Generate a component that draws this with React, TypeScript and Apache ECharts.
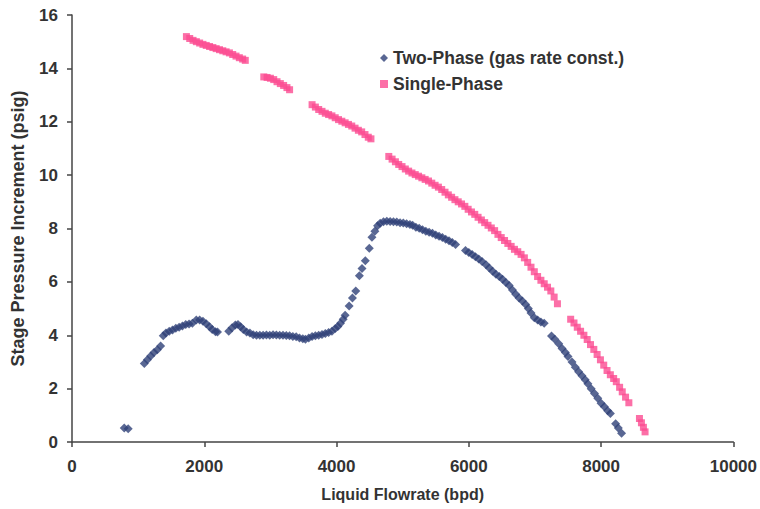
import React, { useEffect, useRef } from "react";
import * as echarts from "echarts";

// Two-phase pump stage data (gas rate held constant)
const twoPhaseFlow = [
  790, 850,
  1093, 1140, 1190, 1240, 1290, 1340,
  1380, 1420, 1470, 1520, 1570, 1620, 1670, 1720, 1770, 1820, 1880, 1930, 1980, 2030, 2080, 2120, 2170, 2200,
  2370, 2420, 2470, 2510, 2550, 2590, 2640, 2690, 2740, 2790, 2840, 2890, 2940, 2990, 3040, 3090, 3140, 3190,
  3240, 3290, 3340, 3390, 3440, 3490, 3530, 3580, 3630, 3680, 3730, 3780, 3830, 3880, 3930, 3980, 4020, 4060,
  4100, 4130, 4190, 4240, 4290, 4345, 4385, 4435, 4495, 4535, 4580, 4620, 4660, 4710, 4760, 4810, 4860, 4910,
  4960, 5010, 5060, 5110, 5150, 5200, 5250, 5300, 5350, 5400, 5450, 5500, 5550, 5600, 5650, 5700, 5750, 5800,
  5950, 6000, 6050, 6100, 6150, 6200, 6260, 6310, 6360, 6410, 6460, 6510, 6560, 6610, 6660, 6710, 6760, 6810,
  6860, 6900, 6940, 6990, 7040, 7090, 7140,
  7250, 7300, 7360, 7410, 7460, 7500, 7560, 7610, 7660, 7710, 7760, 7800, 7850, 7900, 7950, 8000, 8050, 8100, 8140,
  8220, 8260, 8310,
];
const twoPhaseDp = [
  0.52, 0.5,
  2.94, 3.08, 3.22, 3.35, 3.46, 3.6,
  3.98, 4.08, 4.15, 4.2, 4.26, 4.3, 4.35, 4.4, 4.42, 4.45, 4.57, 4.57, 4.52, 4.43, 4.32, 4.22, 4.13, 4.12,
  4.15, 4.28, 4.38, 4.4, 4.32, 4.22, 4.12, 4.08, 4.02, 4.0, 4.0, 4.0, 4.01, 4.0, 4.02, 4.01, 4.0, 4.0,
  3.99, 3.98, 3.95, 3.94, 3.9, 3.87, 3.85, 3.9, 3.95, 3.98, 4.0, 4.03, 4.07, 4.1, 4.15, 4.25, 4.33, 4.45,
  4.6, 4.75, 5.1, 5.4, 5.66, 6.23, 6.5, 6.79, 7.26, 7.67, 7.9, 8.1, 8.2, 8.25, 8.27, 8.26, 8.25, 8.24,
  8.22, 8.21, 8.18, 8.15, 8.12, 8.05, 8.01, 7.95, 7.9, 7.86, 7.82, 7.76, 7.71, 7.66, 7.6, 7.54, 7.48, 7.4,
  7.18, 7.1, 7.03, 6.94, 6.86, 6.76, 6.64, 6.52, 6.4, 6.29, 6.2, 6.1, 5.98, 5.86, 5.7, 5.54, 5.4, 5.28,
  5.15, 5.0, 4.83, 4.66, 4.57, 4.5, 4.45,
  3.97, 3.85, 3.68, 3.5, 3.35, 3.2, 3.0, 2.8, 2.63, 2.48, 2.33, 2.18, 2.0, 1.82, 1.64, 1.45, 1.32, 1.17, 1.07,
  0.68, 0.52, 0.33,
];

// Single-phase (liquid only) stage data
const singlePhaseFlow = [
  1730, 1780, 1830, 1880, 1930, 1980, 2030, 2080, 2130, 2180, 2230, 2280, 2330, 2380, 2430, 2480, 2530, 2580, 2620,
  2900, 2950, 3000, 3050, 3100, 3150, 3200, 3250, 3290,
  3630, 3680, 3730, 3780, 3830, 3880, 3930, 3980, 4030, 4080, 4130, 4180, 4230, 4280, 4330, 4380, 4430, 4480, 4520,
  4790, 4840, 4890, 4940, 4990, 5040, 5090, 5140, 5190, 5240, 5290, 5340, 5390, 5440, 5490, 5540, 5590, 5640,
  5690, 5740, 5790, 5840, 5890, 5940, 5990, 6040, 6090, 6140, 6190, 6240, 6290, 6340, 6390, 6440, 6490, 6540,
  6590, 6640, 6690, 6740, 6790, 6840, 6890, 6940, 6990, 7040, 7090, 7140, 7190, 7240, 7290, 7340,
  7540, 7590, 7640, 7690, 7740, 7790, 7840, 7890, 7940, 7990, 8040, 8090, 8140, 8190, 8230, 8280, 8320, 8370, 8420,
  8580, 8610, 8640, 8665,
];
const singlePhaseDp = [
  15.19, 15.12, 15.05, 15.0, 14.95, 14.9, 14.86, 14.82, 14.78, 14.74, 14.7, 14.66, 14.62, 14.58, 14.52, 14.46, 14.4, 14.35, 14.3,
  13.68, 13.66, 13.63, 13.58, 13.5, 13.43, 13.36, 13.28, 13.2,
  12.64, 12.55, 12.46, 12.39, 12.32, 12.27, 12.22, 12.15, 12.08, 12.02, 11.96, 11.9, 11.84, 11.76, 11.68, 11.62, 11.52, 11.42, 11.36,
  10.7, 10.6, 10.5, 10.4, 10.32, 10.23, 10.15, 10.08, 10.02, 9.96, 9.9, 9.84, 9.78, 9.7, 9.62, 9.55, 9.46, 9.36,
  9.26, 9.17, 9.08, 9.0, 8.92, 8.83, 8.72, 8.62, 8.53, 8.42, 8.32, 8.22, 8.12, 8.02, 7.92, 7.78, 7.66, 7.55,
  7.44, 7.33, 7.22, 7.13, 7.03, 6.9, 6.73, 6.55, 6.38, 6.2, 6.06, 5.93, 5.8, 5.66, 5.43, 5.18,
  4.6, 4.46, 4.3, 4.15, 4.0, 3.84, 3.65, 3.47, 3.28, 3.08, 2.88, 2.68, 2.52, 2.38, 2.26, 2.05, 1.88, 1.68, 1.47,
  0.88, 0.72, 0.55, 0.38,
];

const xTicks = { min: 0, max: 10000, interval: 2000 };
const yTicks = { min: 0, max: 16, interval: 2 };

const NAVY = "#2f4178";
const PINK = "#fb4b91";
const INK = "#333333";
const FONT = "'Liberation Sans', Arial, sans-serif";

const zip = (xs: number[], ys: number[]) => xs.map((x, i) => [x, ys[i]]);

export default function App() {
  const ref = useRef<HTMLDivElement>(null);

  useEffect(() => {
    if (!ref.current) return;
    const chart = echarts.init(ref.current, undefined, { renderer: "svg" });

    const axisCommon = {
      axisLine: { show: true, onZero: false, lineStyle: { color: "#444", width: 1.5 } },
      axisTick: { show: true, inside: false, length: 5, lineStyle: { color: "#444", width: 1.5 } },
      splitLine: { show: false },
      nameTextStyle: { color: INK, fontFamily: FONT, fontWeight: "bold" as const },
    };

    chart.setOption({
      animation: false,
      backgroundColor: "#ffffff",
      textStyle: { fontFamily: FONT },
      grid: { left: 72, right: 23, top: 15, bottom: 67, containLabel: false },
      legend: {
        show: true,
        orient: "vertical",
        left: 375,
        top: 44,
        itemWidth: 8,
        itemHeight: 8,
        itemGap: 8,
        textStyle: { color: INK, fontFamily: FONT, fontWeight: "bold", fontSize: 17.5 },
        data: [
          { name: "Two-Phase (gas rate const.)", icon: "diamond" },
          { name: "Single-Phase", icon: "rect" },
        ],
      },
      xAxis: {
        type: "value",
        ...xTicks,
        ...axisCommon,
        name: "Liquid Flowrate (bpd)",
        nameLocation: "middle",
        nameGap: 44,
        nameTextStyle: { ...axisCommon.nameTextStyle, fontSize: 16 },
        axisLabel: {
          color: INK,
          fontFamily: FONT,
          fontWeight: "bold",
          fontSize: 17,
          margin: 16,
          formatter: (v: number) => String(v),
        },
      },
      yAxis: {
        type: "value",
        ...yTicks,
        ...axisCommon,
        name: "Stage Pressure Increment (psig)",
        nameLocation: "middle",
        nameGap: 45,
        nameTextStyle: { ...axisCommon.nameTextStyle, fontSize: 18 },
        axisLabel: {
          color: INK,
          fontFamily: FONT,
          fontWeight: "bold",
          fontSize: 17,
          margin: 14,
          formatter: (v: number) => String(v),
        },
      },
      series: [
        {
          name: "Two-Phase (gas rate const.)",
          type: "scatter",
          symbol: "diamond",
          symbolSize: 9,
          itemStyle: { color: NAVY },
          data: zip(twoPhaseFlow, twoPhaseDp),
        },
        {
          name: "Single-Phase",
          type: "scatter",
          symbol: "rect",
          symbolSize: 7,
          itemStyle: { color: PINK },
          data: zip(singlePhaseFlow, singlePhaseDp),
        },
      ],
    });

    return () => chart.dispose();
  }, []);

  return (
    <div
      ref={ref}
      style={{ position: "fixed", left: 0, top: 0, width: 760, height: 509, background: "#fff" }}
    />
  );
}
